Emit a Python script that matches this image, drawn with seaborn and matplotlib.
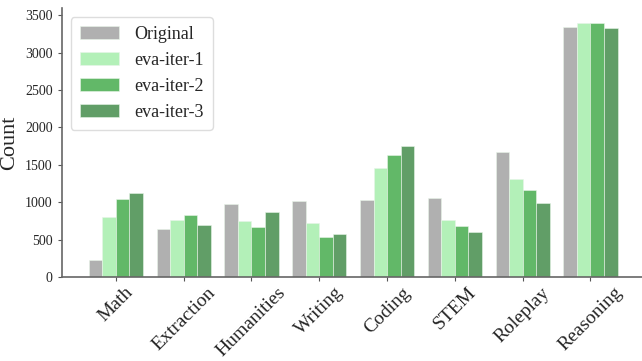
import pandas as pd
import seaborn as sns
import matplotlib.pyplot as plt

# Data
categories = ["Math", "Extraction", "Humanities", "Writing",
              "Coding", "STEM", "Roleplay", "Reasoning"]
original = [225, 640, 975, 1020, 1030, 1060, 1670, 3345]
eva_iter_1 = [800, 760, 750, 720, 1455, 765, 1310, 3405]
eva_iter_2 = [1045, 825, 670, 530, 1630, 675, 1160, 3395]
eva_iter_3 = [1125, 695, 865, 570, 1750, 605, 990, 3325]
series_names = ["Original", "eva-iter-1", "eva-iter-2", "eva-iter-3"]

palette = ["#b0b0b0", "#b3f0b8", "#62b868", "#619e67"]

# Long form table for seaborn
rows = []
for name, vals in zip(series_names, [original, eva_iter_1, eva_iter_2, eva_iter_3]):
    for cat, v in zip(categories, vals):
        rows.append({"category": cat, "series": name, "count": v})
df = pd.DataFrame(rows)

sns.set_style("ticks")
plt.rcParams["font.family"] = ["Liberation Serif", "DejaVu Serif"]

fig = plt.figure(figsize=(6.42, 3.61), dpi=100)
ax = fig.add_axes([0.096, 0.233, 0.904, 0.745])

sns.barplot(
    data=df,
    x="category",
    y="count",
    hue="series",
    palette=palette,
    saturation=1,
    order=categories,
    hue_order=series_names,
    width=0.8,
    edgecolor="#e8f5e8",
    linewidth=0.4,
    ax=ax,
)

ax.set_xlim(-0.8, 7.76)
ax.set_ylim(0, 3600)
ax.set_xlabel("")
ax.set_ylabel("Count", fontsize=16)
ax.tick_params(axis="y", labelsize=10, length=3, color="#555555")
ax.tick_params(axis="x", labelsize=14, length=3, pad=2, color="#555555")
for lab in ax.get_xticklabels():
    lab.set_rotation(45)
    lab.set_ha("center")

sns.despine(ax=ax)
for side in ["left", "bottom"]:
    ax.spines[side].set_color("#666666")
    ax.spines[side].set_linewidth(1.2)

ax.legend(loc="upper left", fontsize=13, frameon=True, fancybox=True,
          framealpha=1, edgecolor="#dddddd", handlelength=2.2,
          borderpad=0.5, labelspacing=0.5, title=None)

fig.savefig("out.png", dpi=100)
